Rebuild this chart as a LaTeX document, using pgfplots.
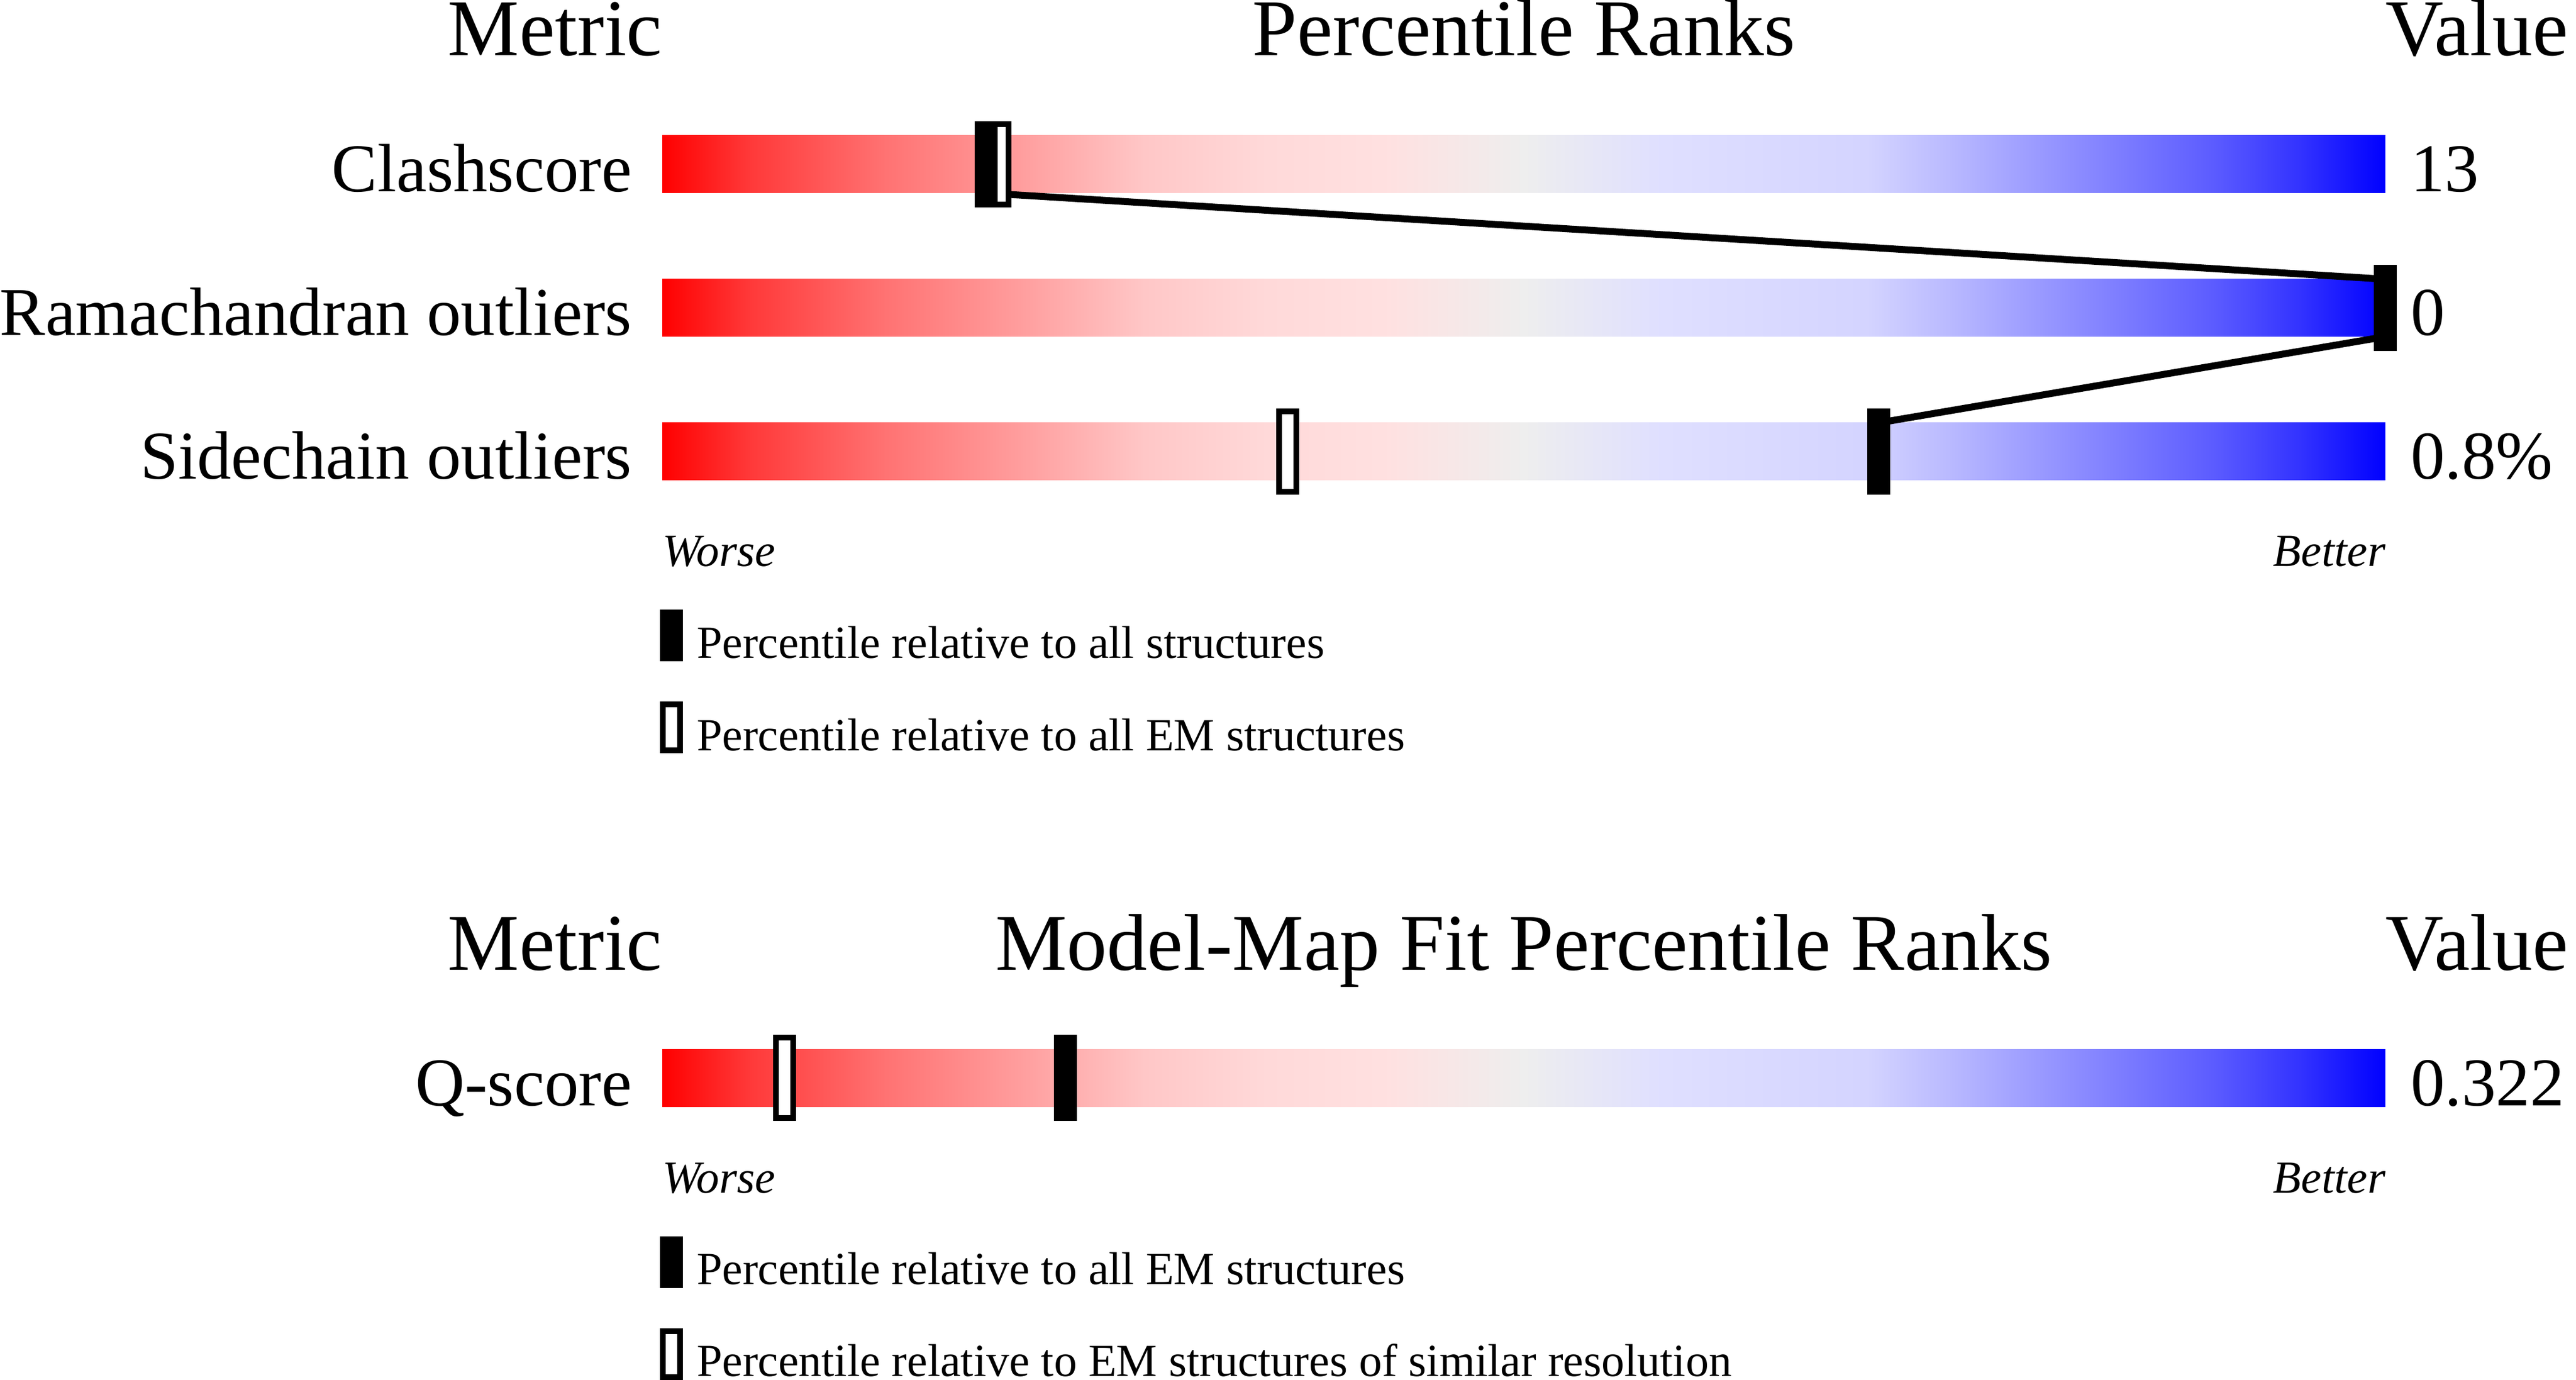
\documentclass[border=0pt]{standalone}
\usepackage{pgfplots}
\usepackage{pgfplotstable}
\pgfplotsset{compat=1.18}
\usepackage{fontspec}
\setmainfont{Liberation Serif}

\pgfdeclarehorizontalshading{pct}{100bp}{%
rgb(0bp)=(1,0,0);
rgb(25bp)=(1,0,0);
rgb(27.5bp)=(1,.22,.22);
rgb(31.5bp)=(1,.45,.45);
rgb(35bp)=(1,.6,.6);
rgb(39bp)=(1,.78,.78);
rgb(42.5bp)=(1,.85,.85);
rgb(46bp)=(1,.88,.88);
rgb(50bp)=(.933,.933,.933);
rgb(54bp)=(.875,.875,1);
rgb(60bp)=(.83,.83,1);
rgb(62.5bp)=(.72,.72,1);
rgb(65bp)=(.6,.6,1);
rgb(67.5bp)=(.48,.48,1);
rgb(70bp)=(.36,.36,1);
rgb(72.5bp)=(.2,.2,1);
rgb(75bp)=(0,0,1);
rgb(100bp)=(0,0,1)}

\pgfdeclareplotmark{fbar}{\pgfpathrectangle{\pgfpoint{-2pt}{-7.5pt}}{\pgfpoint{4pt}{15pt}}\pgfusepathqfill}
\pgfdeclareplotmark{obar}{\pgfpathrectangle{\pgfpoint{-1.5pt}{-7pt}}{\pgfpoint{3pt}{14pt}}\pgfusepathqfillstroke}
\pgfdeclareplotmark{flbar}{\pgfpathrectangle{\pgfpoint{-2pt}{-4.5pt}}{\pgfpoint{4pt}{9pt}}\pgfusepathqfill}
\pgfdeclareplotmark{olbar}{\pgfpathrectangle{\pgfpoint{-1.5pt}{-4pt}}{\pgfpoint{3pt}{8pt}}\pgfusepathqfillstroke}

\newcommand\hdr{\fontsize{14}{16}\selectfont}
\newcommand\lbl{\fontsize{11.9}{14}\selectfont}
\newcommand\sml{\fontsize{8}{9.6}\selectfont}
\tikzset{tx/.style={inner sep=0pt, outer sep=0pt}}

% percentile ranks (x) at row positions (y, in picture rows)
\pgfplotstableread{
x y
18.8 286
100 536
70.6 786
}\allstruct
\pgfplotstableread{
x y
19.6 286
100 536
36.3 786
}\allem
\pgfplotstableread{
x y
23.4 1876
}\qallem
\pgfplotstableread{
x y
7.1 1876
}\qsimres

\begin{document}
\begin{tikzpicture}
\begin{axis}[at={(0,0)}, anchor=south west,
  width=448.5pt, height=240.2pt, scale only axis,
  hide axis, clip=false,
  xmin=-38.4333, xmax=111.0667, ymin=0, ymax=2402, y dir=reverse]

% gradient bars
\addplot[draw=none, shade, shading=pct] coordinates {(0,236) (100,236) (100,336) (0,336)} -- cycle;
\addplot[draw=none, shade, shading=pct] coordinates {(0,486) (100,486) (100,586) (0,586)} -- cycle;
\addplot[draw=none, shade, shading=pct] coordinates {(0,736) (100,736) (100,836) (0,836)} -- cycle;
\addplot[draw=none, shade, shading=pct] coordinates {(0,1826) (100,1826) (100,1926) (0,1926)} -- cycle;

% open markers
\addplot[only marks, mark=obar, mark options={draw=black, fill=white, line width=1pt, solid, line join=miter}] table[x=x, y=y] {\allem};
\addplot[only marks, mark=obar, mark options={draw=black, fill=white, line width=1pt, solid, line join=miter}] table[x=x, y=y] {\qsimres};

% connecting lines
\addplot[black, line width=1.2pt] coordinates {(18.8,336) (100,486)};
\addplot[black, line width=1.2pt] coordinates {(100,586) (70.6,736)};

% filled markers
\addplot[only marks, mark=fbar, mark options={fill=black, draw=none}] table[x=x, y=y] {\allstruct};
\addplot[only marks, mark=fbar, mark options={fill=black, draw=none}] table[x=x, y=y] {\qallem};

% legend glyphs
\addplot[only marks, mark=flbar, mark options={fill=black, draw=none}] coordinates {(0.533,1106.5) (0.533,2197)};
\addplot[only marks, mark=olbar, mark options={draw=black, fill=white, line width=1pt, solid, line join=miter}] coordinates {(0.533,1266.5) (0.533,2357)};

% headers
\node[tx, anchor=base east] at (axis cs:0,97) {\hdr Metric};
\node[tx, anchor=base] at (axis cs:50,97) {\hdr Percentile Ranks};
\node[tx, anchor=base west] at (axis cs:100,97) {\hdr Value};
\node[tx, anchor=base east] at (axis cs:0,1688) {\hdr Metric};
\node[tx, anchor=base] at (axis cs:50,1688) {\hdr Model-Map Fit Percentile Ranks};
\node[tx, anchor=base west] at (axis cs:100,1688) {\hdr Value};

% row labels
\node[tx, anchor=base east] at (axis cs:-1.767,334) {\lbl Clashscore};
\node[tx, anchor=base east] at (axis cs:-1.767,584) {\lbl Ramachandran outliers};
\node[tx, anchor=base east] at (axis cs:-1.767,834) {\lbl Sidechain outliers};
\node[tx, anchor=base east] at (axis cs:-1.767,1924) {\lbl Q-score};

% values
\node[tx, anchor=base west] at (axis cs:101.47,334) {\lbl 13};
\node[tx, anchor=base west] at (axis cs:101.47,584) {\lbl 0};
\node[tx, anchor=base west] at (axis cs:101.47,834) {\lbl 0.8\%};
\node[tx, anchor=base west] at (axis cs:101.47,1924) {\lbl 0.322};

% worse / better
\node[tx, anchor=base west] at (axis cs:0,986) {\sml\itshape Worse};
\node[tx, anchor=base east] at (axis cs:100,986) {\sml\itshape Better};
\node[tx, anchor=base west] at (axis cs:0,2076) {\sml\itshape Worse};
\node[tx, anchor=base east] at (axis cs:100,2076) {\sml\itshape Better};

% legend texts
\node[tx, anchor=base west] at (axis cs:2.0,1146) {\sml Percentile relative to all structures};
\node[tx, anchor=base west] at (axis cs:2.0,1306) {\sml Percentile relative to all EM structures};
\node[tx, anchor=base west] at (axis cs:2.0,2235) {\sml Percentile relative to all EM structures};
\node[tx, anchor=base west] at (axis cs:2.0,2395) {\sml Percentile relative to EM structures of similar resolution};
\end{axis}
\pgfresetboundingbox
\useasboundingbox (current axis.south west) rectangle (current axis.north east);
\end{tikzpicture}
\end{document}
